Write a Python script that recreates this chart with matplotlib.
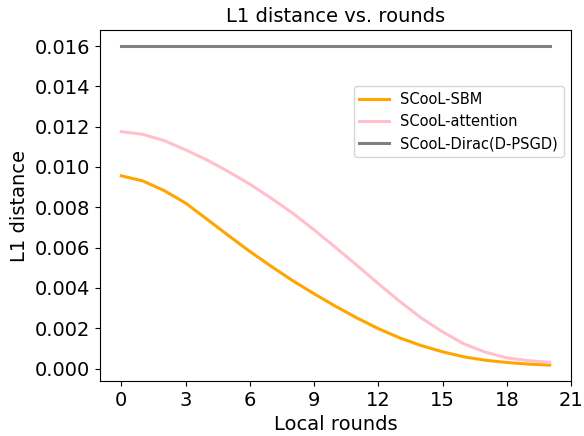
import numpy as np
import matplotlib
matplotlib.use("Agg")
import matplotlib.pyplot as plt

# local rounds 0..20
rounds = list(range(21))

sbm = [0.00956, 0.00931, 0.00883, 0.00821, 0.00741, 0.00660, 0.00581, 0.00507,
       0.00436, 0.00371, 0.00309, 0.00251, 0.00198, 0.00152, 0.00114, 0.00083,
       0.00058, 0.00041, 0.00030, 0.00022, 0.00017]
attention = [0.01175, 0.01162, 0.01131, 0.01085, 0.01035, 0.00977, 0.00915, 0.00845,
             0.00771, 0.00688, 0.00601, 0.00512, 0.00421, 0.00333, 0.00251, 0.00182,
             0.00122, 0.00081, 0.00053, 0.00039, 0.00031]
dirac = [0.016] * 21

fig = plt.figure(figsize=(5.84, 4.36), dpi=100)
ax = fig.add_axes([0.171, 0.126, 0.807, 0.805])

ax.plot(rounds, sbm, color='orange', linewidth=2.2, label='SCooL-SBM')
ax.plot(rounds, attention, color='pink', linewidth=2.2, label='SCooL-attention')
ax.plot(rounds, dirac, color='gray', linewidth=2.2, label='SCooL-Dirac(D-PSGD)')

ax.set_xticks(range(0, 22, 3))
ax.set_yticks(np.arange(0, 0.0161, 0.002))
ax.tick_params(labelsize=14)
ax.set_xlabel('Local rounds', fontsize=14)
ax.set_ylabel('L1 distance', fontsize=14)
ax.set_title('L1 distance vs. rounds', fontsize=14)
ax.legend(loc='upper right', bbox_to_anchor=(1.0, 0.862), fontsize=10.5)

fig.savefig('out.png', dpi=100)
